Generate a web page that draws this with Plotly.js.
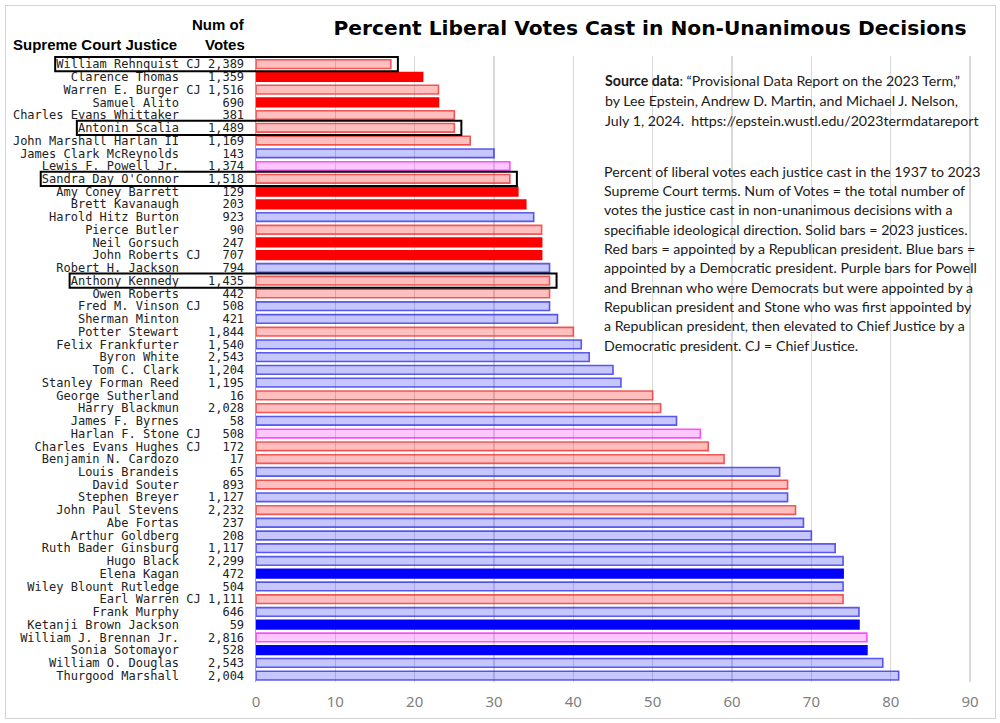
<!DOCTYPE html>
<html><head><meta charset="utf-8">
<script src="https://cdn.plot.ly/plotly-3.0.1.min.js"></script>
<style>
body{margin:0;background:#fff}
#frame{position:absolute;left:5px;top:5px;width:989px;height:712px;border:1px solid #d4d4d4;pointer-events:none}
</style>
</head><body>
<div id="chart" style="width:1000px;height:723px"></div>
<div id="frame"></div>
<script>
// ---- data ----
const justices = [
  "William Rehnquist CJ","Clarence Thomas","Warren E. Burger CJ","Samuel Alito","Charles Evans Whittaker",
  "Antonin Scalia","John Marshall Harlan II","James Clark McReynolds","Lewis F. Powell Jr.","Sandra Day O'Connor",
  "Amy Coney Barrett","Brett Kavanaugh","Harold Hitz Burton","Pierce Butler","Neil Gorsuch",
  "John Roberts CJ","Robert H. Jackson","Anthony Kennedy","Owen Roberts","Fred M. Vinson CJ",
  "Sherman Minton","Potter Stewart","Felix Frankfurter","Byron White","Tom C. Clark",
  "Stanley Forman Reed","George Sutherland","Harry Blackmun","James F. Byrnes","Harlan F. Stone CJ",
  "Charles Evans Hughes CJ","Benjamin N. Cardozo","Louis Brandeis","David Souter","Stephen Breyer",
  "John Paul Stevens","Abe Fortas","Arthur Goldberg","Ruth Bader Ginsburg","Hugo Black",
  "Elena Kagan","Wiley Blount Rutledge","Earl Warren CJ","Frank Murphy","Ketanji Brown Jackson",
  "William J. Brennan Jr.","Sonia Sotomayor","William O. Douglas","Thurgood Marshall"
];
const numVotes = [
  2389,1359,1516,690,381, 1489,1169,143,1374,1518,
  129,203,923,90,247, 707,794,1435,442,508,
  421,1844,1540,2543,1204, 1195,16,2028,58,508,
  172,17,65,893,1127, 2232,237,208,1117,2299,
  472,504,1111,646,59, 2816,528,2543,2004
];
const pctLiberal = [
  17,21,23,23,25, 25,27,30,32,32,
  33,34,35,36,36, 36,37,37,37,37,
  38,40,41,42,45, 46,50,51,53,56,
  57,59,66,67,67, 68,69,70,73,74,
  74,74,74,76,76, 77,77,79,81
];
// R = appointed by Republican, D = by Democrat, P = purple (Powell, Brennan, Stone)
const appointedBy = [
  "R","R","R","R","R", "R","R","D","P","R",
  "R","R","D","R","R", "R","D","R","R","D",
  "D","R","D","D","D", "D","R","R","D","P",
  "R","R","D","R","D", "R","D","D","D","D",
  "D","D","R","D","D", "P","D","D","D"
];
const sitting2023 = ["Clarence Thomas","Samuel Alito","Amy Coney Barrett","Brett Kavanaugh","Neil Gorsuch",
  "John Roberts CJ","Elena Kagan","Ketanji Brown Jackson","Sonia Sotomayor"];
const boxed = ["William Rehnquist CJ","Antonin Scalia","Sandra Day O'Connor","Anthony Kennedy"];
const xTicks = [0,10,20,30,40,50,60,70,80,90];

// ---- styling helpers ----
const fillFor = {R:"rgba(255,0,0,0.25)", D:"rgba(0,0,255,0.22)", P:"rgba(255,0,255,0.22)"};
const lineFor = {R:"rgba(240,50,50,0.8)", D:"rgba(40,40,230,0.75)", P:"rgba(255,40,255,0.8)"};
const solidFor = {R:"#ff0000", D:"#0000ff", P:"#ff00ff"};

const NB = "\u00a0";
const labels = justices.map((n,i)=>{
  let base = n, suf = "   ";
  if (n.endsWith(" CJ")) { base = n.slice(0,-3); suf = " CJ"; }
  const v = numVotes[i].toLocaleString("en-US").padStart(5," ");
  return (base + suf + " " + v).replace(/ /g, NB);
});
const fills = justices.map((n,i)=> sitting2023.includes(n) ? solidFor[appointedBy[i]] : fillFor[appointedBy[i]]);
const lines = justices.map((n,i)=> sitting2023.includes(n) ? solidFor[appointedBy[i]] : lineFor[appointedBy[i]]);

// geometry
const W=1000,H=723, mL=256, mR=22, mT=56, mB=41;
const plotW = W-mL-mR, plotH = H-mT-mB;
const xMax = 91;
const px2x = px => (px-mL)/plotW;
const py2y = py => (H-mB-py)/plotH;
const charW = 12*0.602;
const labelRight = 246;

const shapes = [];
boxed.forEach(name=>{
  const i = justices.indexOf(name);
  const nChars = labels[i].length;
  const left = labelRight - nChars*charW - 3;
  const right = mL + pctLiberal[i]*plotW/xMax + 7;
  shapes.push({type:"rect", xref:"paper", yref:"y", x0:px2x(left), x1:px2x(right),
    y0:i-0.56, y1:i+0.56, line:{color:"#000", width:2}, fillcolor:"rgba(0,0,0,0)", layer:"above"});
});
// white backing behind text blocks (hides gridlines)
shapes.push({type:"rect", xref:"paper", yref:"paper", x0:px2x(598), x1:px2x(992), y0:py2y(131), y1:py2y(68),
  line:{width:0}, fillcolor:"#fff", layer:"between"});
shapes.push({type:"rect", xref:"paper", yref:"paper", x0:px2x(598), x1:px2x(992), y0:py2y(356), y1:py2y(160),
  line:{width:0}, fillcolor:"#fff", layer:"between"});

const para1 = [
  "<b>Source data</b>: \u201cProvisional Data Report on the 2023 Term,\u201d",
  "by Lee Epstein, Andrew D. Martin, and Michael J. Nelson,",
  "July 1, 2024.  https://epstein.wustl.edu/2023termdatareport"
];
const para2 = [
  "Percent of liberal votes each justice cast in the 1937 to 2023",
  "Supreme Court terms. Num of Votes = the total number of",
  "votes the justice cast in non-unanimous decisions with a",
  "specifiable ideological direction. Solid bars = 2023 justices.",
  "Red bars = appointed by a Republican president. Blue bars =",
  "appointed by a Democratic president. Purple bars for Powell",
  "and Brennan who were Democrats but were appointed by a",
  "Republican president and Stone who was first appointed by",
  "a Republican president, then elevated to Chief Justice by a",
  "Democratic president. CJ = Chief Justice."
];
const txtFont = {family:"Lato", size:14.2, color:"#1a1a1a"};
const annotations = [];
para1.forEach((t,k)=> annotations.push({xref:"paper", yref:"paper", x:px2x(603), y:py2y(80+k*20),
  xanchor:"left", yanchor:"middle", text:t, showarrow:false, font:txtFont}));
para2.forEach((t,k)=> annotations.push({xref:"paper", yref:"paper", x:px2x(602), y:py2y(171+k*19.35),
  xanchor:"left", yanchor:"middle", text:t, showarrow:false, font:txtFont}));
const hdrFont = {family:"Liberation Sans", size:15, color:"#000"};
annotations.push({xref:"paper", yref:"paper", x:px2x(179), y:py2y(45), xanchor:"right", yanchor:"middle",
  text:"<b>Supreme Court Justice</b>", showarrow:false, font:hdrFont});
annotations.push({xref:"paper", yref:"paper", x:px2x(247), y:py2y(25), xanchor:"right", yanchor:"middle",
  text:"<b>Num of</b>", showarrow:false, font:hdrFont});
annotations.push({xref:"paper", yref:"paper", x:px2x(247), y:py2y(45), xanchor:"right", yanchor:"middle",
  text:"<b>Votes</b>", showarrow:false, font:hdrFont});

const trace = {
  type:"bar", orientation:"h", x:pctLiberal, y:labels,
  marker:{color:fills, line:{color:lines, width:1.6}},
  hoverinfo:"skip"
};

const layout = {
  width:W, height:H, margin:{l:mL, r:mR, t:mT, b:mB},
  paper_bgcolor:"#fff", plot_bgcolor:"#fff",
  title:{text:"<b>Percent Liberal Votes Cast in Non-Unanimous Decisions</b>",
    font:{family:"DejaVu Sans", size:20.2, color:"#000"},
    xref:"container", yref:"container", x:0.65, xanchor:"center", y:1-28/H, yanchor:"middle"},
  bargap:0.32,
  showlegend:false,
  xaxis:{range:[0,xMax], tickvals:xTicks, ticktext:xTicks.map(String), showgrid:true, gridcolor:"#d9d9d9",
    gridwidth:1.5, zeroline:false, showline:false, ticks:"",
    tickfont:{family:"Noto Sans", size:15, color:"#7f7f7f"}, ticklabelstandoff:9, fixedrange:true},
  yaxis:{type:"category", autorange:"reversed", tickmode:"linear", dtick:1, tick0:0,
    showgrid:false, zeroline:false, showline:true,
    linecolor:"#a6a6a6", linewidth:1.5, ticks:"",
    tickfont:{family:"DejaVu Sans Mono", size:12, color:"#222"}, ticklabelstandoff:8, fixedrange:true},
  shapes:shapes, annotations:annotations
};

Plotly.newPlot("chart", [trace], layout, {displayModeBar:false, staticPlot:true});
</script>
</body></html>
